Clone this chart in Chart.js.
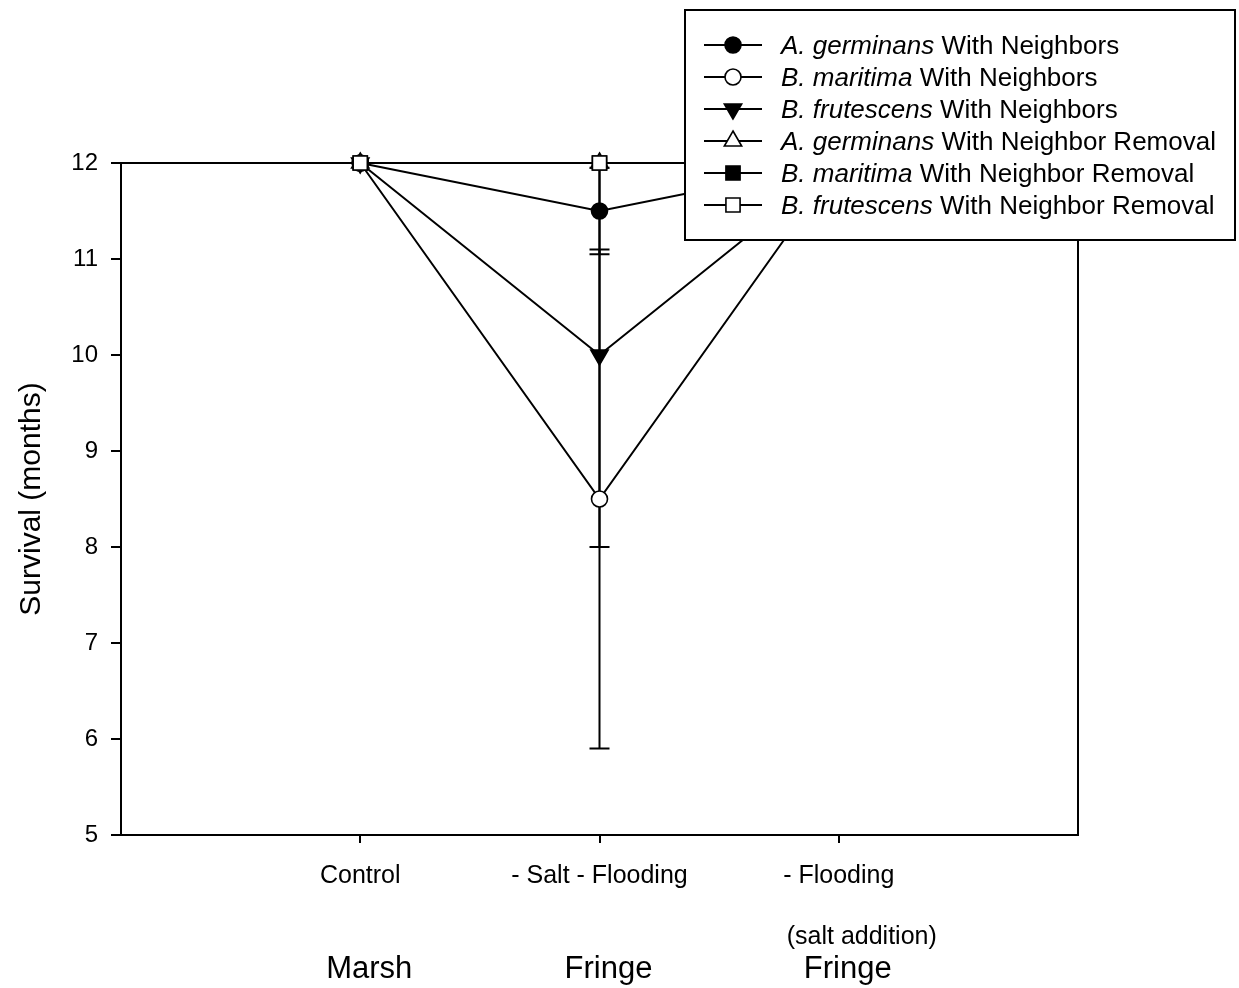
<!DOCTYPE html>
<html>
<head>
<meta charset="utf-8">
<script src="https://cdn.jsdelivr.net/npm/chart.js@4/dist/chart.umd.min.js"></script>
<style>
  html, body { margin: 0; padding: 0; background: #fff; }
  #wrap { position: relative; width: 1239px; height: 988px; }
</style>
</head>
<body>
<div id="wrap"><canvas id="chart"></canvas></div>
<script>
// fonte parecida com Arial do SigmaPlot
const FONT = '"Liberation Sans", Arial, sans-serif';

// ---- dados ----
const categories = ['Control', '- Salt - Flooding', '- Flooding'];
const subLabels = ['', '', '(salt addition)'];
const sites = ['Marsh', 'Fringe', 'Fringe'];
const yMin = 5, yMax = 12, yStep = 1;

const agWith = [12, 11.5, 12];
const agWithErr = [0, 0.45, 0];
const bmWith = [12, 8.5, 12];
const bmWithErr = [0, 2.6, 0];
const bfWith = [12, 10, 12];
const bfWithErr = [0, 2.0, 0];
const agRemoval = [12, 12, 12];
const bmRemoval = [12, 12, 12];
const bfRemoval = [12, 12, 12];
const noErr = [0, 0, 0];

const species = ['A. germinans', 'B. maritima', 'B. frutescens', 'A. germinans', 'B. maritima', 'B. frutescens'];
const treatments = ['With Neighbors', 'With Neighbors', 'With Neighbors', 'With Neighbor Removal', 'With Neighbor Removal', 'With Neighbor Removal'];

const toPoints = vals => vals.map((v, i) => ({ x: i, y: v }));

function series(idx, vals, errs, style, filled, radius, rotation) {
  return {
    label: species[idx] + ' ' + treatments[idx],
    data: toPoints(vals),
    errors: errs,
    borderColor: '#000',
    borderWidth: 2,
    pointStyle: style,
    pointRadius: radius,
    pointHoverRadius: radius,
    pointRotation: rotation || 0,
    pointBackgroundColor: filled ? '#000' : '#fff',
    pointBorderColor: '#000',
    pointBorderWidth: 1.6,
    fill: false,
    tension: 0,
    clip: false,
    order: 5 - idx
  };
}

const datasets = [
  series(0, agWith, agWithErr, 'circle', true, 8),
  series(1, bmWith, bmWithErr, 'circle', false, 8),
  series(2, bfWith, bfWithErr, 'triangle', true, 10, 180),
  series(3, agRemoval, noErr, 'triangle', false, 10),
  series(4, bmRemoval, noErr, 'rect', true, 10),
  series(5, bfRemoval, noErr, 'rect', false, 10)
];

// ---- plugins ----
// moldura do gráfico + barras de erro (atrás dos marcadores)
const framePlugin = {
  id: 'frameAndErrors',
  beforeDatasetsDraw(chart) {
    const { ctx, chartArea: a, scales } = chart;
    ctx.save();
    ctx.strokeStyle = '#000';
    ctx.lineWidth = 2;
    ctx.strokeRect(a.left, a.top, a.right - a.left, a.bottom - a.top);

    chart.data.datasets.forEach(ds => {
      ds.data.forEach((p, i) => {
        const e = ds.errors[i];
        if (!e) return;
        const x = scales.x.getPixelForValue(p.x);
        const yLo = scales.y.getPixelForValue(p.y - e);
        const yHi = scales.y.getPixelForValue(p.y + e);
        ctx.beginPath();
        ctx.moveTo(x, yLo); ctx.lineTo(x, yHi);
        ctx.moveTo(x - 10, yLo); ctx.lineTo(x + 10, yLo);
        ctx.moveTo(x - 10, yHi); ctx.lineTo(x + 10, yHi);
        ctx.stroke();
      });
    });
    ctx.restore();
  }
};

// legenda com nome da espécie em itálico + rótulos de local
const legendPlugin = {
  id: 'customLegend',
  afterDraw(chart) {
    const { ctx, scales } = chart;
    ctx.save();

    ctx.fillStyle = '#000';
    ctx.textAlign = 'center';
    ctx.textBaseline = 'middle';
    // segunda linha do eixo x
    ctx.font = '25px ' + FONT;
    subLabels.forEach((s, i) => {
      if (s) ctx.fillText(s, scales.x.getPixelForValue(i) + 23, 937);
    });
    // local (Marsh / Fringe)
    ctx.font = '31px ' + FONT;
    sites.forEach((s, i) => {
      ctx.fillText(s, scales.x.getPixelForValue(i) + 9, 969);
    });

    // caixa da legenda
    const bx = 685, by = 10, bw = 550, bh = 230;
    ctx.fillStyle = '#fff';
    ctx.fillRect(bx, by, bw, bh);
    ctx.strokeStyle = '#000';
    ctx.lineWidth = 2;
    ctx.strokeRect(bx, by, bw, bh);

    chart.data.datasets.forEach((ds, i) => {
      const y = 45 + i * 32;
      ctx.beginPath();
      ctx.moveTo(704, y); ctx.lineTo(762, y);
      ctx.lineWidth = 2;
      ctx.strokeStyle = '#000';
      ctx.stroke();

      ctx.fillStyle = ds.pointBackgroundColor;
      ctx.strokeStyle = '#000';
      ctx.lineWidth = ds.pointBorderWidth;
      Chart.helpers.drawPoint(ctx, {
        pointStyle: ds.pointStyle,
        radius: ds.pointRadius,
        rotation: ds.pointRotation,
        borderWidth: ds.pointBorderWidth
      }, 733, y);

      ctx.fillStyle = '#000';
      ctx.textAlign = 'left';
      ctx.textBaseline = 'middle';
      ctx.font = 'italic 26px ' + FONT;
      ctx.fillText(species[i], 781, y + 2);
      const w = ctx.measureText(species[i] + ' ').width;
      ctx.font = '26px ' + FONT;
      ctx.fillText(treatments[i], 781 + w, y + 2);
    });
    ctx.restore();
  }
};

new Chart(document.getElementById('chart'), {
  type: 'line',
  data: { datasets },
  options: {
    responsive: true,
    maintainAspectRatio: false,
    animation: false,
    layout: { padding: { top: 163, right: 161, left: 0, bottom: 0 } },
    plugins: {
      legend: { display: false },
      tooltip: { enabled: false }
    },
    scales: {
      x: {
        type: 'linear',
        min: -1,
        max: 3,
        afterBuildTicks: s => { s.ticks = categories.map((c, i) => ({ value: i })); },
        afterFit: s => { s.height = 153; },
        border: { display: false },
        grid: { drawOnChartArea: false, drawTicks: true, tickLength: 8, color: '#000', lineWidth: 2 },
        ticks: {
          color: '#000',
          padding: 18,
          maxRotation: 0,
          autoSkip: false,
          font: { family: FONT, size: 25 },
          callback: v => categories[v]
        }
      },
      y: {
        min: yMin,
        max: yMax,
        afterFit: s => { s.width = 121; },
        border: { display: false },
        grid: { drawOnChartArea: false, drawTicks: true, tickLength: 10, color: '#000', lineWidth: 2 },
        ticks: {
          stepSize: yStep,
          color: '#000',
          padding: 13,
          font: { family: FONT, size: 24 }
        },
        title: {
          display: true,
          text: 'Survival (months)',
          color: '#000',
          padding: { top: 14, bottom: 0 },
          font: { family: FONT, size: 30 }
        }
      }
    }
  },
  plugins: [framePlugin, legendPlugin]
});
</script>
</body>
</html>
